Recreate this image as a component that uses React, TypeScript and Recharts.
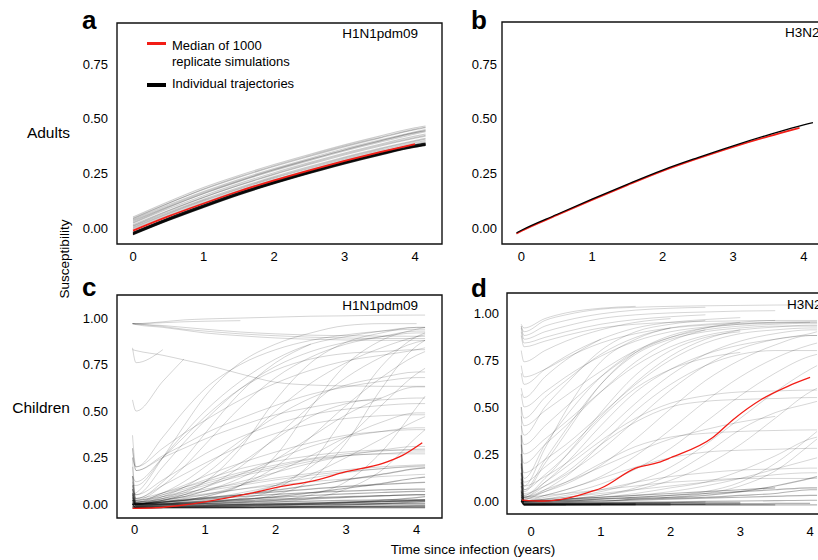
import React from 'react';
import { LineChart, Line, XAxis, YAxis, ReferenceArea } from 'recharts';

const FONT = '"Liberation Sans", Arial, Helvetica, sans-serif';
const RED = '#f21d16';

type Series = (number | null)[];

// ---------- Panel a: Adults, H1N1pdm09 ----------
const timesA = [0, 0.5, 1, 1.5, 2, 2.5, 3, 3.5, 4, 4.15];
const adultsH1Grey: Series[] = [
  [0.05, 0.12, 0.185, 0.24, 0.29, 0.336, 0.38, 0.42, 0.458, 0.466],
  [0.045, 0.113, 0.176, 0.231, 0.281, 0.327, 0.371, 0.411, 0.449, 0.458],
  [0.038, 0.105, 0.167, 0.222, 0.272, 0.318, 0.362, 0.402, 0.44, 0.45],
  [0.03, 0.096, 0.157, 0.212, 0.262, 0.308, 0.352, 0.392, 0.43, 0.44],
  [0.022, 0.088, 0.148, 0.203, 0.253, 0.299, 0.343, 0.383, 0.42, 0.43],
  [0.015, 0.08, 0.14, 0.194, 0.244, 0.29, 0.334, 0.374, 0.41, 0.42],
  [0.008, 0.072, 0.131, 0.185, 0.235, 0.281, 0.324, 0.364, 0.4, 0.41],
  [0.0, 0.064, 0.123, 0.177, 0.227, 0.272, 0.315, 0.355, 0.39, 0.4],
  [0.042, 0.112, 0.178, 0.234, 0.285, 0.331, 0.375, 0.414, 0.452, 0.461],
  [0.025, 0.094, 0.158, 0.214, 0.266, 0.312, 0.357, 0.398, 0.436, 0.446],
  [0.01, 0.078, 0.14, 0.196, 0.247, 0.294, 0.338, 0.378, 0.414, 0.424],
  [-0.005, 0.058, 0.117, 0.171, 0.22, 0.266, 0.309, 0.348, 0.384, 0.394],
  [0.034, 0.1, 0.162, 0.217, 0.267, 0.313, 0.357, 0.397, 0.435, 0.444],
  [0.004, 0.068, 0.127, 0.181, 0.231, 0.277, 0.32, 0.36, 0.396, 0.406],
];
const adultsH1Black: Series[] = [
  [-0.03, 0.035, 0.095, 0.152, 0.203, 0.25, 0.294, 0.334, 0.37, 0.378],
  [-0.027, 0.038, 0.098, 0.155, 0.206, 0.253, 0.297, 0.337, 0.373, 0.381],
  [-0.024, 0.041, 0.101, 0.158, 0.209, 0.256, 0.3, 0.34, 0.376, 0.384],
  [-0.02, 0.045, 0.105, 0.162, 0.213, 0.26, 0.304, 0.344, 0.38, 0.388],
];
const timesAMedian = [0, 0.5, 1, 1.5, 2, 2.5, 3, 3.5, 4];
const adultsH1Median: Series = [-0.012, 0.053, 0.112, 0.168, 0.218, 0.264, 0.307, 0.347, 0.384];

// ---------- Panel b: Adults, H3N2 ----------
const timesB = [-0.07, 0, 0.5, 1, 1.5, 2, 2.5, 3, 3.5, 4, 4.13];
const adultsH3Black: Series[] = [
  [-0.022, -0.01, 0.062, 0.132, 0.2, 0.265, 0.322, 0.376, 0.426, 0.472, 0.482],
];
const timesBMedian = [-0.07, 0, 0.5, 1, 1.5, 2, 2.5, 3, 3.5, 3.94];
const adultsH3Median: Series = [-0.026, -0.014, 0.058, 0.128, 0.196, 0.261, 0.318, 0.371, 0.419, 0.458];

// ---------- Panel c: Children, H1N1pdm09 ----------
const timesC = [-0.03, 0.02, 0.4, 0.7, 1, 1.5, 2, 2.5, 3, 3.5, 4, 4.12];
const childH1Lines: Series[] = [
  [0.97, 0.97, 0.98, 0.99, 0.995, 1.0, 1.005, 1.01, 1.012, 1.015, 1.016, 1.016],
  [0.97, 0.97, 0.975, 0.98, 0.983, 0.986, null, null, null, null, null, null],
  [0.97, 0.965, 0.95, 0.935, 0.92, 0.905, 0.893, 0.886, 0.882, 0.88, 0.88, 0.88],
  [0.97, 0.968, 0.96, 0.95, 0.94, 0.925, 0.915, 0.908, 0.905, 0.903, 0.902, 0.902],
  [0.97, 0.968, 0.955, 0.94, 0.93, 0.915, 0.905, 0.897, 0.893, 0.89, 0.89, 0.89],
  [0.83, 0.825, 0.8, 0.775, 0.75, 0.7, 0.655, 0.64, 0.635, 0.633, 0.633, 0.633],
  [0.84, 0.76, 0.83, null, null, null, null, null, null, null, null, null],
  [0.56, 0.5, 0.66, 0.78, null, null, null, null, null, null, null, null],
  [0.05, 0.05, 0.2, 0.33, 0.45, 0.62, 0.74, 0.82, 0.87, 0.9, 0.92, 0.92],
  [0.02, 0.02, 0.1, 0.2, 0.32, 0.52, 0.68, 0.79, 0.86, 0.9, 0.93, 0.93],
  [0.0, 0.0, 0.04, 0.09, 0.16, 0.32, 0.5, 0.65, 0.76, 0.84, 0.9, 0.91],
  [0.0, 0.0, 0.02, 0.05, 0.09, 0.2, 0.36, 0.53, 0.68, 0.79, 0.87, 0.88],
  [0.0, 0.0, 0.01, 0.02, 0.04, 0.1, 0.2, 0.36, 0.53, 0.68, 0.8, 0.82],
  [0.0, 0.0, 0.01, 0.01, 0.02, 0.05, 0.1, 0.2, 0.35, 0.53, 0.7, 0.73],
  [0.1, 0.1, 0.25, 0.38, 0.5, 0.66, 0.78, 0.86, 0.9, 0.93, 0.95, 0.95],
  [0.3, 0.18, 0.26, 0.32, 0.38, 0.46, 0.53, 0.59, 0.63, 0.66, 0.68, 0.68],
  [0.37, 0.2, 0.3, 0.38, 0.45, 0.56, 0.65, 0.72, 0.77, 0.8, 0.83, 0.84],
  [0.02, 0.02, 0.06, 0.12, 0.2, 0.34, 0.47, 0.57, 0.64, 0.68, 0.71, 0.71],
  [0.0, 0.0, 0.02, 0.04, 0.07, 0.14, 0.24, 0.36, 0.48, 0.57, 0.63, 0.63],
  [0.0, 0.0, 0.03, 0.07, 0.12, 0.22, 0.35, 0.47, 0.54, 0.57, null, null],
  [0.0, 0.0, 0.01, 0.03, 0.05, 0.1, 0.17, 0.26, 0.36, 0.44, 0.49, 0.49],
  [0.0, 0.0, 0.02, 0.05, 0.09, 0.16, 0.24, 0.31, 0.36, 0.39, 0.41, 0.41],
  [0.01, 0.01, 0.05, 0.09, 0.13, 0.19, 0.23, 0.26, 0.28, 0.29, 0.29, 0.29],
  [0.01, 0.01, 0.04, 0.07, 0.1, 0.15, 0.19, 0.23, 0.26, 0.27, 0.28, 0.28],
  [0.02, 0.02, 0.05, 0.08, 0.11, 0.16, 0.2, 0.24, 0.26, 0.27, 0.27, 0.27],
  [0.0, 0.0, 0.01, 0.02, 0.03, 0.06, 0.1, 0.16, 0.25, 0.35, 0.45, 0.47],
  [0.15, 0.12, 0.25, 0.36, 0.47, 0.62, 0.72, 0.78, 0.81, 0.82, 0.83, 0.83],
  [0.25, 0.2, 0.36, 0.5, 0.62, 0.75, 0.83, 0.88, 0.91, 0.93, 0.94, 0.94],
  [0.05, 0.06, 0.25, 0.42, 0.58, 0.76, 0.86, 0.92, 0.96, 0.97, 0.97, null],
  [0.0, 0.0, 0.0, 0.0, 0.01, 0.02, 0.05, 0.13, 0.33, 0.62, 0.85, 0.88],
  [0.0, 0.0, 0.0, 0.01, 0.01, 0.03, 0.08, 0.22, 0.48, 0.74, 0.9, 0.92],
  [0.0, 0.0, 0.01, 0.02, 0.04, 0.1, 0.26, 0.52, 0.75, 0.88, 0.94, 0.95],
  [0.01, 0.01, 0.03, 0.06, 0.12, 0.3, 0.56, 0.76, 0.87, 0.92, 0.95, 0.95],
  [0.0, 0.0, 0.0, 0.0, 0.0, 0.01, 0.02, 0.05, 0.12, 0.28, 0.52, 0.58],
  [0.0, 0.0, 0.0, 0.0, 0.0, 0.0, 0.01, 0.03, 0.08, 0.18, 0.36, 0.4],
  [0.03, 0.03, 0.12, 0.24, 0.38, 0.6, 0.76, 0.86, null, null, null, null],
  [0.05, 0.03, 0.1, 0.16, 0.22, 0.31, 0.38, 0.43, 0.46, 0.475, 0.48, 0.48],
  [0.08, 0.05, 0.13, 0.2, 0.27, 0.36, 0.43, 0.48, 0.51, 0.53, 0.54, 0.54],
  [0.02, 0.01, 0.06, 0.1, 0.15, 0.22, 0.28, 0.33, 0.37, 0.39, 0.4, 0.4],
  [0.0, 0.0, 0.02, 0.04, 0.07, 0.12, 0.17, 0.22, 0.26, 0.29, 0.31, 0.31],
  [0.3, 0.18, 0.25, 0.3, 0.35, 0.42, 0.48, 0.52, 0.55, 0.56, 0.57, 0.57],
  [0.12, 0.03, 0.06, 0.09, 0.12, 0.17, 0.21, 0.245, 0.27, 0.285, 0.295, 0.296],
  [0.2, 0.01, 0.025, 0.04, 0.055, 0.08, 0.1, 0.12, 0.135, 0.148, 0.158, 0.16],
  [0.25, 0.02, 0.04, 0.06, 0.08, 0.11, 0.14, 0.165, 0.185, 0.2, 0.21, 0.212],
  [0.04, 0.005, 0.02, 0.035, 0.05, 0.08, 0.11, 0.14, 0.17, 0.19, 0.205, 0.207],
  [0.06, 0.01, 0.03, 0.05, 0.07, 0.1, 0.13, 0.155, 0.175, 0.19, 0.2, 0.2],
];
const childH1LowLines: Series[] = [
  [-0.02, -0.02, -0.02, -0.02, -0.02, -0.02, -0.02, -0.02, -0.02, -0.02, -0.02, -0.02],
  [-0.01, -0.015, -0.015, -0.015, -0.015, -0.015, -0.015, -0.015, -0.015, -0.015, -0.015, -0.015],
  [0.0, -0.01, -0.01, -0.01, -0.008, -0.006, -0.004, -0.002, 0.0, 0.0, 0.0, 0.0],
  [0.02, -0.01, -0.005, 0.0, 0.003, 0.008, 0.012, 0.016, 0.02, 0.022, 0.024, 0.024],
  [0.05, -0.005, 0.0, 0.005, 0.01, 0.018, 0.026, 0.034, 0.04, 0.045, 0.05, 0.05],
  [0.1, 0.0, 0.01, 0.018, 0.026, 0.04, 0.052, 0.062, 0.07, 0.076, 0.08, 0.08],
  [0.15, 0.005, 0.015, 0.025, 0.035, 0.05, 0.065, 0.08, 0.095, 0.105, 0.115, 0.117],
  [0.02, 0.0, 0.0, 0.0, 0.0, 0.0, 0.0, 0.002, 0.006, 0.012, 0.02, 0.022],
  [-0.02, -0.02, -0.018, -0.016, -0.014, -0.01, -0.005, 0.0, 0.008, 0.02, 0.035, 0.04],
  [0.0, -0.018, -0.018, -0.017, -0.016, -0.015, -0.014, -0.013, -0.012, -0.011, -0.01, -0.01],
  [0.03, 0.0, 0.01, 0.02, 0.03, 0.05, 0.075, 0.1, 0.13, 0.16, 0.19, 0.195],
  [0.01, -0.005, 0.0, 0.006, 0.012, 0.025, 0.04, 0.06, 0.085, 0.11, 0.14, 0.145],
  [-0.02, -0.02, -0.02, -0.02, -0.02, -0.019, -0.018, -0.016, -0.014, -0.012, -0.01, -0.01],
  [-0.015, -0.015, -0.012, -0.01, -0.008, -0.004, 0.0, 0.005, 0.01, 0.015, 0.02, 0.02],
  [0.0, -0.02, -0.02, -0.02, -0.02, -0.02, -0.02, -0.02, -0.02, -0.02, -0.02, -0.02],
  [0.04, -0.012, -0.01, -0.008, -0.006, -0.002, 0.002, 0.006, 0.01, 0.013, 0.016, 0.016],
  [0.08, -0.002, 0.004, 0.01, 0.016, 0.026, 0.036, 0.046, 0.055, 0.062, 0.068, 0.068],
  [-0.01, -0.017, -0.016, -0.015, -0.013, -0.01, -0.007, -0.004, -0.001, 0.002, 0.005, 0.005],
  [0.06, -0.008, -0.004, 0.0, 0.004, 0.012, 0.02, 0.028, 0.036, 0.044, 0.05, 0.05],
  [0.0, -0.02, -0.02, -0.02, -0.019, -0.018, -0.016, -0.012, -0.006, 0.002, 0.012, 0.014],
];
const timesCMedian = [-0.03, 0.3, 0.7, 1, 1.64, 2, 2.58, 3, 3.52, 3.8, 4.08];
const childH1Median: Series = [-0.023, -0.02, -0.005, 0.012, 0.057, 0.088, 0.129, 0.174, 0.219, 0.262, 0.33];

// ---------- Panel d: Children, H3N2 ----------
const timesD = [-0.14, -0.1, 0.2, 0.5, 1, 1.5, 2, 2.5, 3, 3.5, 4, 4.1];
const childH3Lines: Series[] = [
  [0.93, 0.9, 0.96, 0.99, 1.02, 1.03, 1.035, 1.038, 1.04, 1.042, 1.043, 1.043],
  [0.93, 0.88, 0.93, 0.96, 0.995, 1.015, 1.025, 1.03, null, null, null, null],
  [0.92, 0.86, 0.9, 0.93, 0.97, 0.99, 1.0, 1.005, 1.01, 1.012, null, null],
  [0.9, 0.84, 0.87, 0.9, 0.94, 0.965, 0.98, 0.99, null, null, null, null],
  [0.88, 0.82, 0.85, 0.88, 0.92, 0.94, 0.95, 0.955, 0.958, 0.96, 0.96, 0.96],
  [0.94, 0.92, 0.97, 1.0, 1.025, 1.035, null, null, null, null, null, null],
  [0.8, 0.74, 0.8, 0.85, 0.91, 0.95, 0.97, null, null, null, null, null],
  [0.68, 0.62, 0.7, 0.77, 0.86, 0.92, 0.95, 0.965, 0.975, null, null, null],
  [0.72, 0.66, 0.7, 0.76, 0.84, 0.89, 0.92, 0.935, 0.945, 0.95, 0.953, 0.953],
  [0.57, 0.5, 0.58, 0.66, 0.77, 0.85, 0.9, 0.925, 0.94, 0.945, 0.95, 0.95],
  [0.5, 0.44, 0.55, 0.64, 0.78, 0.87, 0.92, null, null, null, null, null],
  [0.45, 0.4, 0.48, 0.56, 0.69, 0.8, 0.87, 0.91, 0.93, 0.94, 0.945, 0.945],
  [0.35, 0.3, 0.4, 0.5, 0.66, 0.79, 0.87, 0.92, 0.95, 0.96, null, null],
  [0.3, 0.25, 0.33, 0.42, 0.58, 0.72, 0.82, 0.88, 0.91, 0.925, 0.935, 0.935],
  [0.25, 0.2, 0.3, 0.4, 0.58, 0.74, 0.85, 0.91, null, null, null, null],
  [0.2, 0.15, 0.22, 0.3, 0.46, 0.62, 0.75, 0.84, 0.89, 0.91, 0.92, 0.92],
  [0.15, 0.1, 0.18, 0.27, 0.45, 0.63, 0.77, 0.86, 0.91, null, null, null],
  [0.15, 0.08, 0.28, 0.48, 0.74, 0.86, 0.92, 0.94, 0.95, null, null, null],
  [0.08, 0.05, 0.2, 0.36, 0.62, 0.79, 0.88, 0.92, 0.94, 0.95, 0.95, null],
  [0.05, 0.03, 0.12, 0.24, 0.47, 0.67, 0.8, 0.87, 0.9, null, null, null],
  [0.1, 0.08, 0.13, 0.2, 0.35, 0.52, 0.67, 0.78, 0.85, 0.89, 0.91, 0.91],
  [0.05, 0.04, 0.08, 0.14, 0.27, 0.43, 0.59, 0.72, 0.81, 0.86, 0.89, 0.9],
  [0.02, 0.02, 0.05, 0.09, 0.19, 0.33, 0.49, 0.64, 0.75, 0.83, 0.88, 0.88],
  [0.01, 0.01, 0.03, 0.06, 0.13, 0.24, 0.38, 0.53, 0.66, 0.76, 0.83, 0.84],
  [0.0, 0.0, 0.02, 0.04, 0.09, 0.17, 0.28, 0.42, 0.56, 0.68, 0.77, 0.78],
  [0.0, 0.0, 0.01, 0.02, 0.05, 0.1, 0.18, 0.3, 0.44, 0.58, 0.7, 0.72],
  [0.0, 0.0, 0.0, 0.01, 0.03, 0.06, 0.11, 0.19, 0.3, 0.44, 0.58, 0.6],
  [0.4, 0.35, 0.5, 0.62, 0.8, 0.9, 0.94, 0.96, null, null, null, null],
  [0.12, 0.06, 0.22, 0.38, 0.62, 0.78, 0.86, 0.9, 0.92, 0.93, 0.93, 0.93],
  [0.03, 0.02, 0.1, 0.2, 0.4, 0.58, 0.7, 0.78, 0.83, 0.86, 0.88, 0.88],
  [0.02, 0.01, 0.06, 0.13, 0.3, 0.48, 0.62, 0.72, 0.78, 0.8, 0.8, 0.8],
  [0.18, 0.12, 0.3, 0.45, 0.66, 0.8, null, null, null, null, null, null],
  [0.6, 0.55, 0.66, 0.75, 0.86, null, null, null, null, null, null, null],
  [0.02, 0.02, 0.08, 0.15, 0.3, 0.42, 0.5, 0.53, 0.54, 0.545, 0.55, 0.55],
  [0.01, 0.01, 0.05, 0.1, 0.2, 0.29, 0.34, 0.36, 0.37, 0.375, 0.378, 0.378],
  [0.0, 0.0, 0.03, 0.06, 0.12, 0.18, 0.23, 0.26, 0.27, 0.275, 0.28, 0.28],
  [0.0, 0.0, 0.01, 0.03, 0.06, 0.1, 0.13, 0.15, 0.165, 0.17, 0.175, 0.175],
  [0.0, 0.0, 0.0, 0.01, 0.02, 0.04, 0.07, 0.1, 0.16, 0.24, 0.33, 0.34],
  [0.0, 0.0, 0.0, 0.0, 0.01, 0.02, 0.03, 0.05, 0.1, 0.2, 0.34, 0.37],
  [0.0, 0.0, 0.0, 0.01, 0.02, 0.03, 0.05, 0.08, 0.12, 0.17, 0.22, 0.23],
  [0.05, 0.03, 0.1, 0.18, 0.32, 0.44, 0.52, 0.56, 0.58, 0.585, 0.59, 0.59],
  [0.0, 0.0, 0.0, 0.01, 0.03, 0.07, 0.14, 0.25, 0.38, 0.47, 0.52, 0.53],
  [0.0, 0.0, 0.0, 0.0, 0.0, 0.01, 0.02, 0.04, 0.08, 0.16, 0.3, 0.33],
  [0.3, 0.0, 0.01, 0.02, 0.04, 0.06, 0.08, 0.1, 0.12, 0.14, 0.15, 0.15],
  [0.5, 0.02, 0.03, 0.04, 0.06, 0.08, 0.1, 0.11, 0.12, 0.12, 0.12, 0.12],
  [0.22, 0.06, 0.14, 0.24, 0.44, 0.6, 0.7, 0.76, 0.79, null, null, null],
  [0.03, 0.02, 0.06, 0.1, 0.18, 0.26, 0.33, 0.38, 0.42, 0.45, null, null],
];
const childH3LowLines: Series[] = [
  [0.0, 0.0, 0.0, 0.0, 0.01, 0.015, 0.02, 0.03, 0.05, 0.08, 0.12, 0.13],
  [0.0, 0.0, 0.0, 0.0, 0.0, 0.01, 0.015, 0.02, 0.03, 0.04, 0.06, 0.06],
  [0.02, -0.02, -0.02, -0.02, -0.02, -0.02, -0.02, -0.02, -0.02, -0.02, -0.02, -0.02],
  [0.05, -0.015, -0.015, -0.015, -0.015, -0.015, -0.015, -0.015, -0.015, null, null, null],
  [0.1, -0.01, -0.012, -0.012, -0.012, -0.012, -0.012, null, null, null, null, null],
  [0.0, -0.018, -0.018, -0.018, -0.018, -0.018, null, null, null, null, null, null],
  [0.15, -0.01, -0.008, -0.005, 0.0, 0.005, 0.01, 0.015, 0.02, 0.025, 0.03, 0.03],
  [0.03, -0.02, -0.02, -0.02, -0.02, null, null, null, null, null, null, null],
  [0.25, -0.005, 0.0, 0.005, 0.012, 0.02, 0.03, 0.04, 0.05, 0.06, 0.07, 0.07],
  [0.0, -0.02, -0.02, -0.02, -0.02, -0.02, -0.02, -0.02, -0.02, -0.02, null, null],
  [0.08, -0.015, -0.014, -0.013, -0.012, -0.01, -0.008, -0.005, null, null, null, null],
  [0.01, -0.02, -0.02, -0.019, -0.018, -0.017, -0.016, -0.015, -0.014, -0.013, -0.012, null],
  [0.2, 0.0, 0.005, 0.01, 0.02, 0.03, 0.04, 0.05, 0.06, 0.07, null, null],
  [0.0, -0.02, -0.02, -0.02, null, null, null, null, null, null, null, null],
  [0.12, -0.01, -0.01, -0.009, -0.008, -0.006, -0.004, -0.002, 0.0, 0.002, 0.004, 0.004],
  [0.04, -0.018, -0.018, -0.018, -0.018, -0.018, -0.018, -0.018, null, null, null, null],
  [0.0, -0.02, -0.02, -0.02, -0.02, -0.02, null, null, null, null, null, null],
  [0.06, -0.017, -0.017, -0.016, -0.015, -0.014, null, null, null, null, null, null],
  [0.35, -0.012, -0.012, -0.012, -0.011, -0.01, -0.009, -0.008, -0.007, null, null, null],
  [0.0, -0.02, -0.02, -0.02, -0.02, -0.02, -0.02, null, null, null, null, null],
];
const timesDMedian = [-0.13, 0.18, 0.51, 0.9, 1.0, 1.5, 1.83, 2.0, 2.6, 2.9, 3.3, 3.68, 4.0];
const childH3Median: Series = [0.005, 0.0, 0.014, 0.055, 0.068, 0.175, 0.205, 0.23, 0.336, 0.434, 0.54, 0.61, 0.657];

// ---------- tick labels ----------
const xTicks = [0, 1, 2, 3, 4];
const yTicksAdults = [0, 0.25, 0.5, 0.75];
const yTicksChildren = [0, 0.25, 0.5, 0.75, 1];

const toRows = (times: number[], ys: Series) =>
  times
    .map((t, i) => ({ t, y: ys[i] }))
    .filter((r) => r.y !== null && r.y !== undefined);

interface Layer {
  times: number[];
  lines: Series[];
  color: string;
  opacity: number;
  width: number;
}

interface PanelProps {
  left: number;
  top: number;
  width: number;
  height: number;
  margin: { top: number; right: number; bottom: number; left: number };
  yAxisWidth: number;
  xAxisHeight: number;
  xDomain: [number, number];
  yDomain: [number, number];
  yTicks: number[];
  yTickMargin: number;
  xTickMargin: number;
  layers: Layer[];
}

const tickStyle = { fontSize: 13, fill: '#000', fontFamily: FONT };

function Panel(p: PanelProps) {
  return (
    <div style={{ position: 'absolute', left: p.left, top: p.top }}>
      <LineChart width={p.width} height={p.height} margin={p.margin}>
        <XAxis
          dataKey="t"
          type="number"
          domain={p.xDomain}
          allowDataOverflow
          ticks={xTicks}
          height={p.xAxisHeight}
          tickLine={false}
          axisLine={false}
          tickSize={0}
          tickMargin={p.xTickMargin}
          tick={tickStyle}
        />
        <YAxis
          type="number"
          domain={p.yDomain}
          allowDataOverflow
          ticks={p.yTicks}
          width={p.yAxisWidth}
          tickLine={false}
          axisLine={false}
          tickSize={0}
          tickMargin={p.yTickMargin}
          tick={tickStyle}
          tickFormatter={(v: number) => v.toFixed(2)}
        />
        {p.layers.map((layer, li) =>
          layer.lines.map((ys, i) => (
            <Line
              key={`l${li}-${i}`}
              data={toRows(layer.times, ys)}
              dataKey="y"
              type="monotone"
              stroke={layer.color}
              strokeOpacity={layer.opacity}
              strokeWidth={layer.width}
              dot={false}
              activeDot={false}
              isAnimationActive={false}
            />
          ))
        )}
        <ReferenceArea
          x1={p.xDomain[0]}
          x2={p.xDomain[1]}
          y1={p.yDomain[0]}
          y2={p.yDomain[1]}
          fill="none"
          fillOpacity={0}
          stroke="#111"
          strokeWidth={1.4}
          ifOverflow="visible"
        />
      </LineChart>
    </div>
  );
}

export default function App() {
  return (
    <div
      style={{
        position: 'absolute',
        left: 0,
        top: 0,
        width: 818,
        height: 560,
        overflow: 'hidden',
        background: '#fff',
        fontFamily: FONT,
      }}
    >
      <Panel
        left={0}
        top={0}
        width={460}
        height={280}
        margin={{ top: 23, right: 18, bottom: 0, left: 0 }}
        yAxisWidth={117}
        xAxisHeight={36}
        xDomain={[-0.227, 4.383]}
        yDomain={[-0.073, 0.937]}
        yTicks={yTicksAdults}
        yTickMargin={9}
        xTickMargin={8}
        layers={[
          { times: timesA, lines: adultsH1Grey, color: '#000', opacity: 0.2, width: 1.1 },
          { times: timesA, lines: adultsH1Black, color: '#000', opacity: 0.85, width: 1.5 },
          { times: timesAMedian, lines: [adultsH1Median], color: RED, opacity: 1, width: 1.8 },
        ]}
      />
      <Panel
        left={460}
        top={0}
        width={390}
        height={280}
        margin={{ top: 22, right: 18, bottom: 0, left: 0 }}
        yAxisWidth={42}
        xAxisHeight={36}
        xDomain={[-0.275, 4.4]}
        yDomain={[-0.073, 0.942]}
        yTicks={yTicksAdults}
        yTickMargin={5}
        xTickMargin={8}
        layers={[
          { times: timesBMedian, lines: [adultsH3Median], color: RED, opacity: 1, width: 1.6 },
          { times: timesB, lines: adultsH3Black, color: '#000', opacity: 1, width: 1.3 },
        ]}
      />
      <Panel
        left={0}
        top={280}
        width={460}
        height={280}
        margin={{ top: 15, right: 18, bottom: 0, left: 0 }}
        yAxisWidth={117}
        xAxisHeight={42}
        xDomain={[-0.25, 4.36]}
        yDomain={[-0.075, 1.124]}
        yTicks={yTicksChildren}
        yTickMargin={9}
        xTickMargin={7}
        layers={[
          { times: timesC, lines: childH1Lines, color: '#000', opacity: 0.17, width: 1 },
          { times: timesC, lines: childH1LowLines, color: '#000', opacity: 0.32, width: 1.2 },
          { times: timesCMedian, lines: [childH1Median], color: RED, opacity: 1, width: 1.3 },
        ]}
      />
      <Panel
        left={460}
        top={280}
        width={390}
        height={280}
        margin={{ top: 13, right: 12, bottom: 0, left: 0 }}
        yAxisWidth={47}
        xAxisHeight={46}
        xDomain={[-0.344, 4.4]}
        yDomain={[-0.069, 1.106]}
        yTicks={yTicksChildren}
        yTickMargin={8}
        xTickMargin={13}
        layers={[
          { times: timesD, lines: childH3Lines, color: '#000', opacity: 0.16, width: 1 },
          { times: timesD, lines: childH3LowLines, color: '#000', opacity: 0.3, width: 1.2 },
          { times: timesDMedian, lines: [childH3Median], color: RED, opacity: 1, width: 1.3 },
        ]}
      />
      <svg
        width={818}
        height={560}
        style={{ position: 'absolute', left: 0, top: 0, pointerEvents: 'none' }}
        fontFamily={FONT}
      >
        <text x={82} y={29} fontSize={26} fontWeight="bold">a</text>
        <text x={471} y={29} fontSize={26} fontWeight="bold">b</text>
        <text x={82} y={296} fontSize={26} fontWeight="bold">c</text>
        <text x={471} y={297} fontSize={26} fontWeight="bold">d</text>

        <text x={70} y={138} fontSize={15.5} textAnchor="end">Adults</text>
        <text x={70} y={413} fontSize={15.5} textAnchor="end">Children</text>
        <text x={69} y={259} fontSize={13.5} textAnchor="middle" transform="rotate(-90 69 259)">
          Susceptibility
        </text>
        <text x={473} y={554} fontSize={13.5} textAnchor="middle">Time since infection (years)</text>

        <text x={418} y={38} fontSize={13.5} textAnchor="end">H1N1pdm09</text>
        <text x={785} y={37} fontSize={13.5}>H3N2</text>
        <text x={418} y={310} fontSize={13.5} textAnchor="end">H1N1pdm09</text>
        <text x={787} y={309} fontSize={13.5}>H3N2</text>

        <line x1={147} x2={166} y1={43.5} y2={43.5} stroke={RED} strokeWidth={3} />
        <text x={172} y={50} fontSize={13}>Median of 1000</text>
        <text x={172} y={66} fontSize={13}>replicate simulations</text>
        <line x1={147} x2={166} y1={85} y2={85} stroke="#000" strokeWidth={4} />
        <text x={172} y={88} fontSize={13}>Individual trajectories</text>
      </svg>
    </div>
  );
}
